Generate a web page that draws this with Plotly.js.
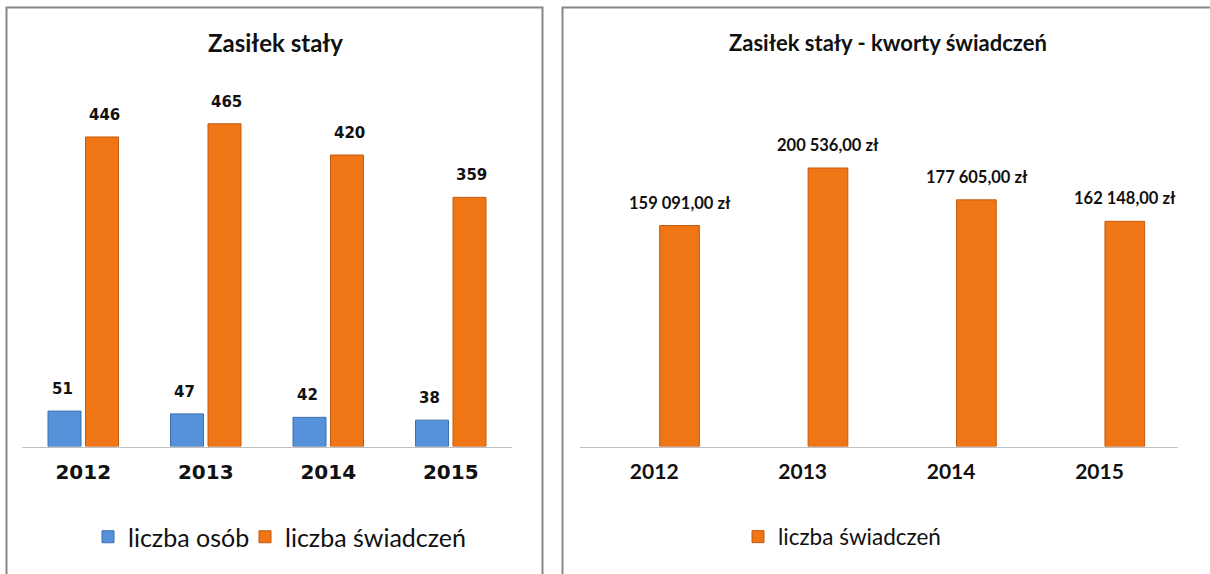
<!DOCTYPE html>
<html>
<head>
<meta charset="utf-8">
<script src="https://cdn.plot.ly/plotly-3.0.1.min.js"></script>
<style>html,body{margin:0;padding:0;background:#fff;}#chart{width:1210px;height:574px;}</style>
</head>
<body>
<div id="chart"></div>
<script>
// ---- data ----
const years = ['2012', '2013', '2014', '2015'];
const liczbaOsob = [51, 47, 42, 38];
const liczbaSwiadczen = [446, 465, 420, 359];
const kwotySwiadczen = [159091, 200536, 177605, 162148];
const titleLeft = 'Zasiłek stały';
const titleRight = 'Zasiłek stały - kworty świadczeń';
const nameOsob = 'liczba osób';
const nameSwiadczen = 'liczba świadczeń';

// ---- styles ----
const W = 1210, H = 574;
const px = v => v / W;
const py = v => 1 - v / H;
const BLUE = '#5592D9', BLUE_EDGE = '#3E6FAE';
const ORANGE = '#F07515', ORANGE_EDGE = '#C25B0E';
const BORDER = '#878787';

const traces = [
  { type: 'bar', x: years, y: liczbaOsob, name: nameOsob, xaxis: 'x', yaxis: 'y', legend: 'legend',
    legendwidth: 112,
    marker: { color: BLUE, line: { color: BLUE_EDGE, width: 1 } }, hoverinfo: 'skip' },
  { type: 'bar', x: years, y: liczbaSwiadczen, name: nameSwiadczen, xaxis: 'x', yaxis: 'y', legend: 'legend',
    marker: { color: ORANGE, line: { color: ORANGE_EDGE, width: 1 } }, hoverinfo: 'skip' },
  { type: 'bar', x: years, y: kwotySwiadczen, name: nameSwiadczen, xaxis: 'x2', yaxis: 'y2', legend: 'legend2',
    width: 40 / 149.5, offset: 5.5 / 149.5,
    marker: { color: ORANGE, line: { color: ORANGE_EDGE, width: 1 } }, hoverinfo: 'skip' }
];

const annotations = [];
// titles
annotations.push({ xref: 'paper', yref: 'paper', x: px(275), y: py(43), text: '<b>' + titleLeft + '</b>',
  showarrow: false, xanchor: 'center', yanchor: 'middle', font: { family: 'Lato', size: 24, color: '#111' } });
annotations.push({ xref: 'paper', yref: 'paper', x: px(888), y: py(43), text: '<b>' + titleRight + '</b>',
  showarrow: false, xanchor: 'center', yanchor: 'middle', font: { family: 'Lato', size: 22, color: '#111' } });
// value labels
const labFontL = { family: 'DejaVu Sans', size: 15, color: '#111' };
years.forEach((yr, i) => {
  annotations.push({ xref: 'x', yref: 'y', x: i, y: liczbaOsob[i], text: '<b>' + liczbaOsob[i] + '</b>',
    showarrow: false, xshift: -21, yshift: 22, yanchor: 'middle', font: labFontL });
  annotations.push({ xref: 'x', yref: 'y', x: i, y: liczbaSwiadczen[i], text: '<b>' + liczbaSwiadczen[i] + '</b>',
    showarrow: false, xshift: 21, yshift: 22, yanchor: 'middle', font: labFontL });
  const v = kwotySwiadczen[i];
  const s = Math.floor(v / 1000) + ' ' + String(v % 1000).padStart(3, '0') + ',00 zł';
  annotations.push({ xref: 'x2', yref: 'y2', x: i, y: v, text: '<b>' + s + '</b>',
    showarrow: false, xshift: 25.5, yshift: 23, yanchor: 'middle', font: { family: 'Lato', size: 16.5, color: '#111' } });
});

const shapes = [
  // left panel border
  { type: 'path', xref: 'paper', yref: 'paper', path: `M ${px(6.5)} ${py(580)} L ${px(6.5)} ${py(7.5)} L ${px(542.5)} ${py(7.5)} L ${px(542.5)} ${py(580)}`,
    line: { color: BORDER, width: 2 } },
  // right panel border
  { type: 'path', xref: 'paper', yref: 'paper', path: `M ${px(562.5)} ${py(580)} L ${px(562.5)} ${py(7.5)} L ${px(1215)} ${py(7.5)}`,
    line: { color: BORDER, width: 2 } }
];

const layout = {
  width: W, height: H,
  margin: { l: 0, r: 0, t: 0, b: 0, pad: 0 },
  paper_bgcolor: '#fff', plot_bgcolor: 'rgba(0,0,0,0)',
  separators: ', ',
  barmode: 'group', bargap: 0.388, bargroupgap: 0.12,
  xaxis: { domain: [px(22), px(512)], type: 'category', showline: true, linecolor: '#BFBFBF', linewidth: 1.5,
    ticks: '', showgrid: false, zeroline: false, fixedrange: true, ticklabelstandoff: 7,
    tickfont: { family: 'DejaVu Sans', size: 20, color: '#111', weight: 'bold' } },
  yaxis: { domain: [py(446.5), py(70)], range: [0, 542.5], visible: false, fixedrange: true },
  xaxis2: { domain: [px(580), px(1178)], type: 'category', showline: true, linecolor: '#BFBFBF', linewidth: 1.5,
    ticks: '', showgrid: false, zeroline: false, fixedrange: true, ticklabelstandoff: 6, anchor: 'y2',
    tickfont: { family: 'Lato', size: 21, color: '#111', weight: 'bold' } },
  yaxis2: { domain: [py(446.5), py(70)], range: [0, 271100], visible: false, fixedrange: true, anchor: 'x2' },
  legend: { orientation: 'h', x: px(88), y: py(537), xanchor: 'left', yanchor: 'middle',
    font: { family: 'Lato', size: 25, color: '#111' }, bgcolor: 'rgba(0,0,0,0)', borderwidth: 0,
    traceorder: 'normal', itemclick: false, itemdoubleclick: false },
  legend2: { orientation: 'h', x: px(738), y: py(537), xanchor: 'left', yanchor: 'middle',
    font: { family: 'Lato', size: 22.5, color: '#111' }, bgcolor: 'rgba(0,0,0,0)', borderwidth: 0,
    itemclick: false, itemdoubleclick: false },
  annotations: annotations,
  shapes: shapes,
  showlegend: true,
  hovermode: false
};

Plotly.newPlot('chart', traces, layout, { displayModeBar: false, staticPlot: true });
</script>
</body>
</html>
